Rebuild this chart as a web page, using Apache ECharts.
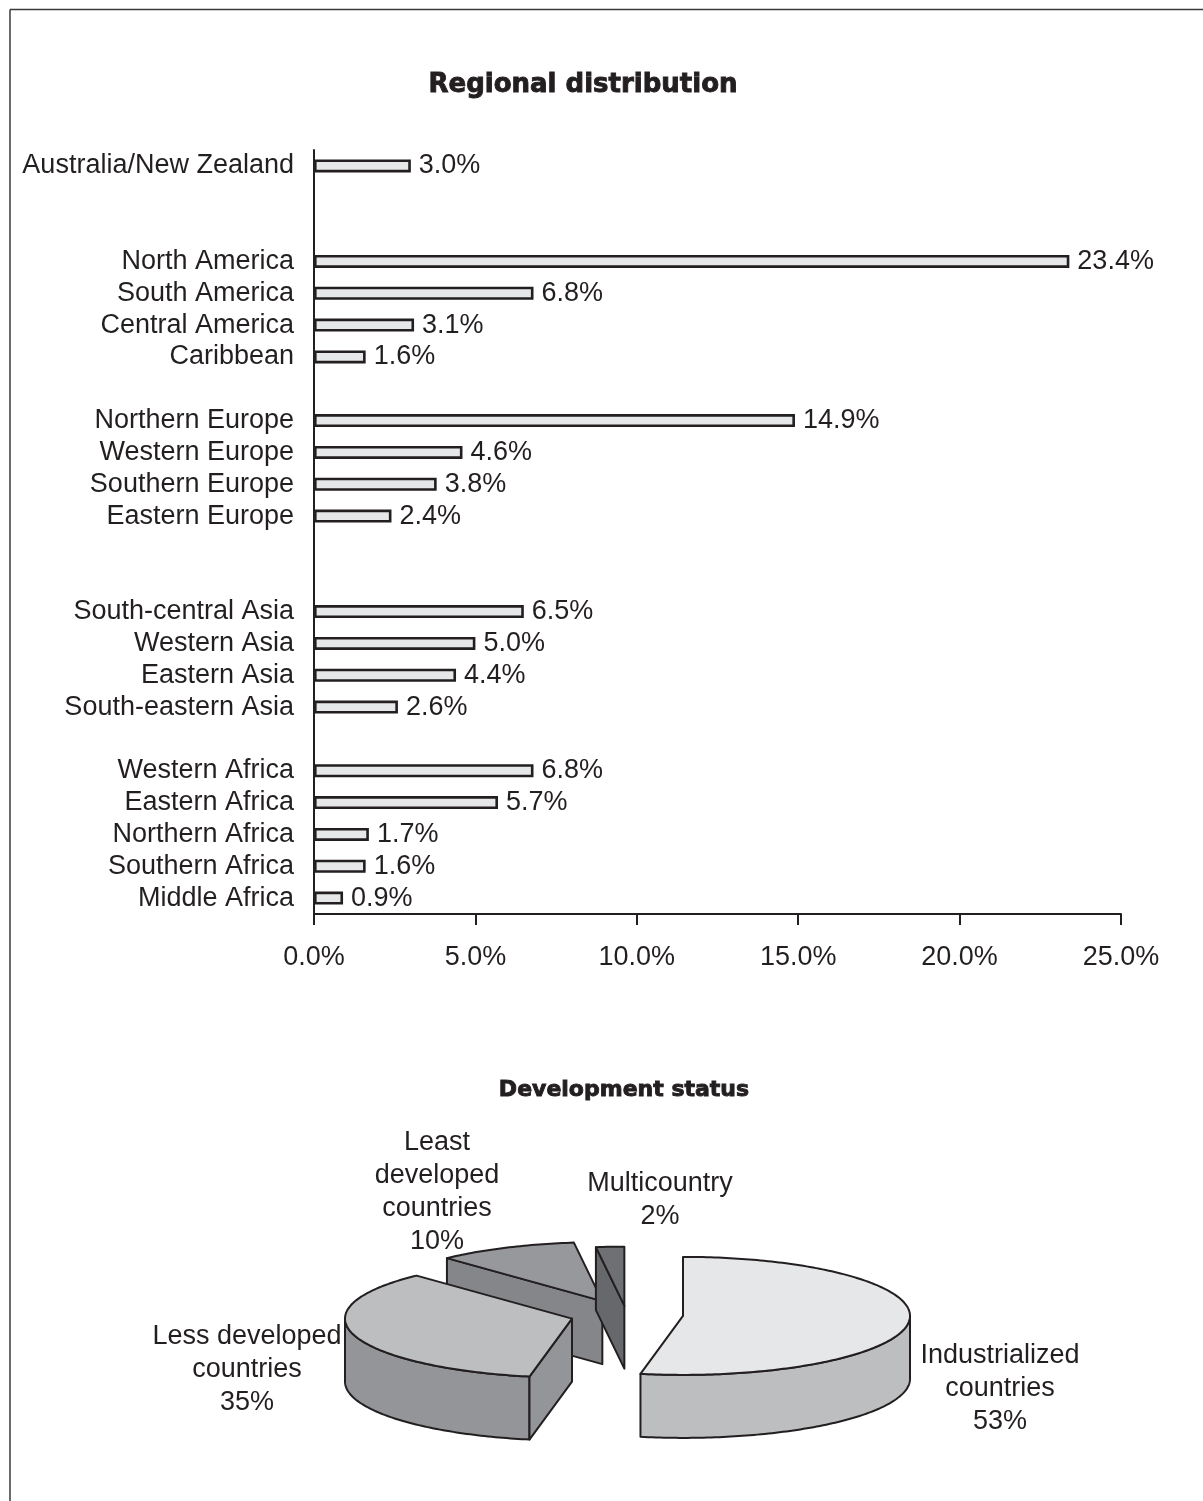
<!DOCTYPE html>
<html>
<head>
<meta charset="utf-8">
<script src="https://cdn.jsdelivr.net/npm/echarts@6/dist/echarts.min.js"></script>
<style>
html,body{margin:0;padding:0;background:#fff;}
#chart{width:1203px;height:1501px;}
</style>
</head>
<body>
<div id="chart"></div>
<script>
// ---- Data ----
const regions = ['Australia/New Zealand', '', '', 'North America', 'South America', 'Central America', 'Caribbean', '',
  'Northern Europe', 'Western Europe', 'Southern Europe', 'Eastern Europe', '', '',
  'South-central Asia', 'Western Asia', 'Eastern Asia', 'South-eastern Asia', '',
  'Western Africa', 'Eastern Africa', 'Northern Africa', 'Southern Africa', 'Middle Africa'];
const regionShares = [3.0, null, null, 23.4, 6.8, 3.1, 1.6, null,
  14.9, 4.6, 3.8, 2.4, null, null,
  6.5, 5.0, 4.4, 2.6, null,
  6.8, 5.7, 1.7, 1.6, 0.9];
const xMin = 0, xMax = 25, xStep = 5;

const statusNames = ['Industrialized\ncountries', 'Less developed\ncountries', 'Least\ndeveloped\ncountries', 'Multicountry'];
const statusShares = [53, 35, 10, 2];

// ---- Layout / style (not data) ----
const INK = '#231f20';
const FONT = '"Liberation Sans", Arial, sans-serif';
const FS = 27;
const pie = { cx: 626.5, cy: 1314.5, rx: 227, ry: 59, depth: 63 };
const explode = [0.25, 0.25, 0.25, 0.15];
const topColors = ['#e6e7e8', '#bcbec0', '#97989b', '#6f7073'];
const wallColors = ['#bcbec0', '#939598', '#858689', '#67686b'];
const labelRel = [[373.5, 74.5], [-379.5, 55.5], [-189.5, -122.5], [33.5, -114.5]];

const total = statusShares.reduce((a, b) => a + b, 0);
const starts = [];
{ let acc = 0; statusShares.forEach(v => { starts.push(acc); acc += v; }); }

function renderSlice(params, api) {
  const i = params.dataIndex;
  const v = api.value(0);
  const a0 = starts[i] / total * Math.PI * 2;
  const a1 = (starts[i] + v) / total * Math.PI * 2;
  const mid = (a0 + a1) / 2;
  const e = explode[i];
  const Cx = pie.cx + e * pie.rx * Math.sin(mid);
  const Cy = pie.cy - e * pie.ry * Math.cos(mid);
  const P = (t, d) => [Cx + pie.rx * Math.sin(t), Cy - pie.ry * Math.cos(t) + (d || 0)];
  const D = pie.depth;
  const arc = (s, t, d) => {
    const pts = [];
    const n = Math.max(2, Math.ceil((t - s) / (Math.PI / 180)));
    for (let k = 0; k <= n; k++) pts.push(P(s + (t - s) * k / n, d));
    return pts;
  };
  const centersY = statusShares.map((_, j) => {
    const m = (starts[j] + statusShares[j] / 2) / total * Math.PI * 2;
    return pie.cy - explode[j] * pie.ry * Math.cos(m);
  });
  const rank = centersY.slice().sort((a, b) => a - b).indexOf(centersY[i]);
  const base = rank * 10;
  const children = [];
  const stroke = { stroke: INK, lineWidth: 2, lineJoin: 'round' };
  const w0 = Math.max(a0, Math.PI / 2), w1 = Math.min(a1, Math.PI * 1.5);
  if (w1 > w0) {
    const top = arc(w0, w1, 0);
    const bot = arc(w0, w1, D).reverse();
    children.push({ type: 'polygon', z2: base + 1, shape: { points: top.concat(bot) },
      style: Object.assign({ fill: wallColors[i] }, stroke) });
  }
  if (Math.sin(a0) < -1e-6) {
    const p = P(a0);
    children.push({ type: 'polygon', z2: base + 1,
      shape: { points: [[Cx, Cy], p, [p[0], p[1] + D], [Cx, Cy + D]] },
      style: Object.assign({ fill: wallColors[i] }, stroke) });
  }
  if (Math.sin(a1) > 1e-6) {
    const p = P(a1);
    children.push({ type: 'polygon', z2: base + 1,
      shape: { points: [[Cx, Cy], p, [p[0], p[1] + D], [Cx, Cy + D]] },
      style: Object.assign({ fill: wallColors[i] }, stroke) });
  }
  children.push({ type: 'polygon', z2: base + 2,
    shape: { points: [[Cx, Cy]].concat(arc(a0, a1, 0)) },
    style: Object.assign({ fill: topColors[i] }, stroke) });
  children.push({ type: 'text', z2: 100,
    style: { text: statusNames[i] + '\n' + v + '%', x: pie.cx + labelRel[i][0], y: pie.cy + labelRel[i][1],
      align: 'center', verticalAlign: 'middle', font: FS + 'px ' + FONT, fill: INK, lineHeight: 33 } });
  return { type: 'group', children: children };
}

const titleStyle = { fontFamily: '"DejaVu Sans"', fontWeight: 'bold', fontSize: 26, color: INK,
  textBorderColor: INK, textBorderWidth: 0.9 };
const titleStyle2 = Object.assign({}, titleStyle, { fontSize: 22 });

const chart = echarts.init(document.getElementById('chart'), null, { renderer: 'canvas' });
chart.setOption({
  backgroundColor: '#ffffff',
  animation: false,
  title: [
    { text: 'Regional distribution', left: 578, top: 67, textAlign: 'center', textStyle: titleStyle },
    { text: 'Development status', left: 619, top: 1074, textAlign: 'center', textStyle: titleStyle2 }
  ],
  graphic: [
    { type: 'line', shape: { x1: 10, y1: 9.5, x2: 1203, y2: 9.5 }, style: { stroke: '#3a3a3a', lineWidth: 1.5 } },
    { type: 'line', shape: { x1: 10, y1: 9.5, x2: 10, y2: 1501 }, style: { stroke: '#3a3a3a', lineWidth: 1.5 } }
  ],
  grid: { left: 314, right: 82, top: 150, height: 764, containLabel: false },
  xAxis: {
    type: 'value', min: xMin, max: xMax, interval: xStep,
    axisLine: { show: true, lineStyle: { color: INK, width: 2 } },
    axisTick: { show: true, length: 11, lineStyle: { color: INK, width: 2 } },
    splitLine: { show: false },
    axisLabel: { margin: 30, fontFamily: FONT, fontSize: FS, color: INK,
      formatter: v => v.toFixed(1) + '%' }
  },
  yAxis: {
    type: 'category', data: regions, inverse: true,
    axisLine: { show: true, lineStyle: { color: INK, width: 2 } },
    axisTick: { show: false },
    axisLabel: { margin: 20, fontFamily: FONT, fontSize: FS, color: INK, interval: 0 }
  },
  series: [
    {
      type: 'bar', data: regionShares, barWidth: 13,
      itemStyle: { color: '#e6e7e8', borderColor: INK, borderWidth: 2.6 },
      label: { show: true, position: 'right', distance: 8, fontFamily: FONT, fontSize: FS, color: INK,
        formatter: p => (p.value == null ? '' : p.value.toFixed(1) + '%') }
    },
    {
      type: 'custom', coordinateSystem: 'none', renderItem: renderSlice,
      data: statusShares.map((v, i) => ({ name: statusNames[i], value: v }))
    }
  ]
});
</script>
</body>
</html>
